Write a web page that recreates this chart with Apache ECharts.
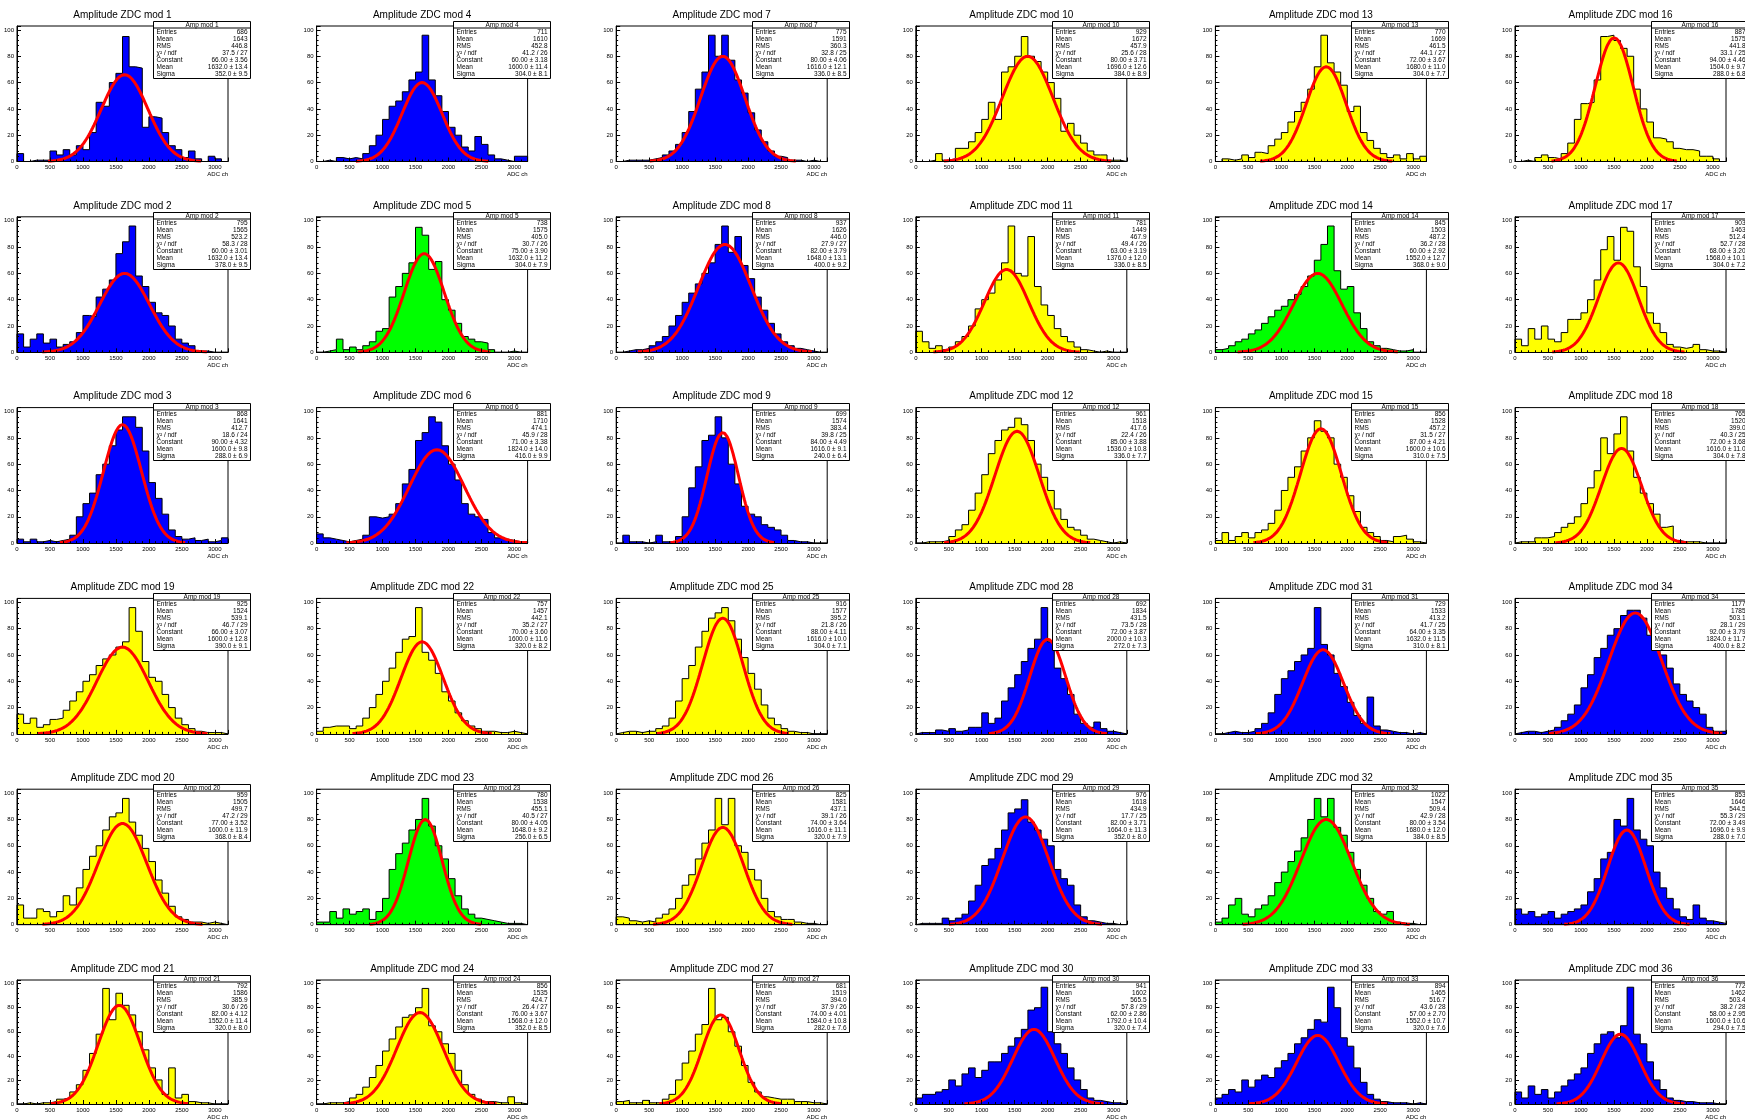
<!DOCTYPE html>
<html>
<head>
<meta charset="utf-8">
<title>Amplitude ZDC</title>
<script src="https://cdn.jsdelivr.net/npm/echarts@6/dist/echarts.min.js"></script>
<style>
html, body { margin: 0; padding: 0; background: #ffffff; }
#chart { width: 1745px; height: 1120px; }
</style>
</head>
<body>
<div id="chart"></div>
<script>
// pads are listed row by row, the way they sit on the canvas
const modules = [1, 4, 7, 10, 13, 16,
                 2, 5, 8, 11, 14, 17,
                 3, 6, 9, 12, 15, 18,
                 19, 22, 25, 28, 31, 34,
                 20, 23, 26, 29, 32, 35,
                 21, 24, 27, 30, 33, 36]

const B = '#0000ff', Y = '#ffff00', G = '#00ff00'
const fillColors = [B, B, B, Y, Y, Y,
                    B, G, B, Y, G, Y,
                    B, B, B, Y, Y, Y,
                    Y, Y, Y, B, B, B,
                    Y, G, Y, B, G, B,
                    Y, Y, Y, B, B, B]

// x range of every histogram (ADC channels) and y range
const xRange = [0, 3200]
const xStep = 500
const yRange = [0, 103]
const yStep = 20

// bin contents, 32 bins per histogram
const counts = [
    // mod 1
    [6,0,1,1,1,8,5,9,5,12,9,22,45,42,60,67,95,72,71,26,34,33,22,12,9,3,8,2,0,4,2,0],
    // mod 4
    [0,1,0,3,2,3,2,6,12,20,32,42,46,53,62,68,96,62,50,38,26,20,11,8,19,13,5,2,1,0,4,4],
    // mod 7
    [0,1,1,1,1,2,3,5,8,13,22,38,55,68,96,80,96,77,62,52,37,24,15,8,4,3,1,1,0,1,0,0],
    // mod 10
    [0,0,1,6,1,2,10,10,15,22,32,45,32,68,72,80,95,80,76,68,60,48,23,29,20,14,8,5,5,1,1,0],
    // mod 13
    [0,2,1,2,5,3,7,6,12,17,22,30,38,45,55,72,96,75,68,58,38,42,22,16,10,6,3,5,2,6,2,4],
    // mod 16
    [0,1,0,3,5,3,2,6,14,32,44,45,62,95,96,92,86,80,55,40,30,18,17,15,10,9,9,8,4,4,2,0],
    // mod 2
    [14,4,10,14,7,10,4,6,8,15,28,27,42,48,55,75,84,96,58,50,38,30,28,20,10,7,5,1,1,0,0,0],
    // mod 5
    [0,1,2,10,2,4,2,5,8,16,18,42,50,60,68,95,89,63,69,40,32,22,12,10,8,7,2,0,0,1,0,0],
    // mod 8
    [0,1,2,2,3,5,8,12,20,28,38,45,52,60,68,82,96,76,88,66,56,42,32,22,14,8,5,3,2,1,0,0],
    // mod 11
    [16,8,3,5,2,4,8,12,20,33,40,45,55,68,96,60,58,88,50,36,28,18,12,8,4,2,1,0,1,0,0,0],
    // mod 14
    [2,3,5,8,10,14,17,22,27,32,35,40,44,50,58,70,82,96,62,48,50,30,18,8,5,3,2,1,1,2,0,0],
    // mod 17
    [10,5,18,10,20,10,8,15,25,25,30,40,55,78,88,70,95,92,65,50,30,22,15,6,4,3,4,6,2,1,1,0],
    // mod 3
    [3,1,3,1,2,1,2,3,6,20,30,38,52,60,74,86,96,96,88,70,46,34,22,10,5,3,4,2,3,1,2,4],
    // mod 6
    [7,4,3,2,1,2,3,6,20,19,20,22,30,45,56,78,84,96,92,74,60,48,30,22,20,18,8,4,3,2,1,1],
    // mod 9
    [0,6,1,1,0,1,6,1,1,5,20,42,58,78,82,96,80,60,45,28,22,20,14,12,10,6,2,1,1,0,0,0],
    // mod 12
    [0,1,1,1,2,5,10,14,25,38,52,68,78,86,88,95,90,78,60,50,40,26,18,12,10,6,3,2,1,0,1,0],
    // mod 15
    [2,8,2,5,8,4,8,10,15,25,40,50,58,70,80,93,85,80,60,50,36,24,12,8,5,2,1,5,6,3,1,0],
    // mod 18
    [1,1,1,4,4,5,8,12,15,20,30,42,55,80,68,83,96,70,50,38,30,22,12,13,2,1,1,1,0,0,0,0],
    // mod 19
    [15,8,12,5,7,11,12,18,25,32,40,45,52,57,60,66,70,96,78,55,43,40,30,20,12,7,4,2,1,1,1,0],
    // mod 22
    [2,5,6,6,6,4,6,12,20,30,40,50,62,72,74,96,62,56,46,32,25,16,10,6,4,2,2,1,1,2,1,0],
    // mod 25
    [1,2,2,1,2,2,4,6,12,25,42,52,66,78,88,92,96,86,72,58,46,34,22,12,7,4,2,1,1,0,0,0],
    // mod 28
    [1,1,1,3,2,4,2,3,5,5,16,8,12,25,35,45,55,65,72,96,70,50,42,30,15,8,5,9,4,2,1,0],
    // mod 31
    [0,1,2,1,1,2,4,8,16,30,42,48,55,60,65,96,68,60,46,36,24,14,8,28,6,3,2,1,1,0,1,0],
    // mod 34
    [1,2,2,1,2,3,5,10,15,22,35,45,58,65,75,80,90,94,94,88,75,68,60,50,38,30,25,20,15,5,2,2],
    // mod 20
    [15,5,5,12,10,6,10,22,15,28,42,52,60,72,82,85,96,78,68,58,48,34,24,14,6,4,2,2,1,2,1,0],
    // mod 23
    [2,2,10,5,12,8,10,12,4,10,20,42,54,62,72,80,96,75,60,50,35,22,12,8,5,4,3,2,1,1,1,0],
    // mod 26
    [6,5,3,2,3,2,5,8,12,20,30,38,50,62,72,96,76,96,60,55,42,34,20,10,6,4,4,2,1,1,0,0],
    // mod 29
    [1,1,1,1,5,3,5,8,18,30,45,50,58,72,85,88,95,78,72,65,60,42,35,30,15,6,3,2,1,1,0,0],
    // mod 32
    [2,5,15,20,8,6,12,15,22,32,40,48,56,66,80,96,82,96,74,68,55,42,30,20,10,8,10,2,1,1,0,0],
    // mod 35
    [12,8,10,6,8,10,5,8,10,12,15,25,35,50,55,80,75,96,72,65,60,40,28,20,12,6,4,15,5,3,2,1],
    // mod 21
    [0,1,0,1,1,2,4,5,10,16,28,42,58,96,70,92,82,74,60,45,30,20,8,30,5,8,2,1,1,0,0,0],
    // mod 24
    [0,1,1,1,2,5,8,14,22,32,44,54,64,72,74,80,96,65,60,50,42,28,16,8,4,2,2,1,1,6,1,0],
    // mod 27
    [2,3,1,1,3,1,1,4,8,20,34,44,58,66,96,70,72,60,48,32,18,10,6,5,4,4,4,2,2,1,1,0],
    // mod 30
    [5,8,8,10,12,20,15,25,30,22,28,35,35,42,48,55,62,78,80,97,60,50,42,30,20,12,5,3,2,1,1,0],
    // mod 33
    [5,8,12,10,20,14,20,24,22,30,36,42,50,55,62,70,68,97,80,55,48,30,18,8,4,2,1,1,1,0,1,0],
    // mod 36
    [10,5,15,8,12,5,10,15,20,25,30,42,50,58,60,55,65,97,58,50,35,20,12,5,3,2,2,1,1,1,0,0]
]

// gaussian fit parameters, same order as the pads
const fitConstant = [66, 60, 80, 80, 72, 94,
                     60, 75, 82, 63, 60, 68,
                     90, 71, 84, 85, 87, 72,
                     66, 70, 88, 72, 64, 92,
                     77, 80, 74, 82, 80, 72,
                     82, 76, 74, 62, 57, 58]
const fitMean = [1632, 1600, 1616, 1696, 1680, 1504,
                 1632, 1632, 1648, 1376, 1552, 1568,
                 1600, 1824, 1616, 1536, 1600, 1616,
                 1600, 1600, 1616, 2000, 1632, 1824,
                 1600, 1648, 1616, 1664, 1680, 1696,
                 1552, 1568, 1584, 1792, 1552, 1600]
const fitSigma = [352, 304, 336, 384, 304, 288,
                  378, 304, 400, 336, 368, 304,
                  288, 416, 240, 336, 310, 304,
                  390, 320, 304, 272, 310, 400,
                  368, 256, 320, 352, 384, 288,
                  320, 352, 282, 320, 320, 294]
const chi2ndf = ['37.5 / 27', '41.2 / 26', '32.8 / 25', '25.6 / 28', '44.1 / 27', '33.1 / 25',
                 '58.3 / 28', '30.7 / 26', '27.9 / 27', '49.4 / 26', '36.2 / 28', '52.7 / 28',
                 '18.6 / 24', '45.9 / 28', '39.8 / 25', '22.4 / 26', '31.5 / 27', '40.3 / 25',
                 '46.7 / 29', '35.2 / 27', '21.8 / 26', '73.5 / 28', '41.7 / 25', '28.1 / 29',
                 '47.2 / 29', '40.5 / 27', '39.1 / 26', '17.7 / 25', '42.9 / 28', '55.3 / 29',
                 '30.6 / 26', '26.4 / 27', '37.9 / 26', '57.8 / 29', '43.6 / 28', '38.2 / 28']

const padW = 299.6, padH = 190.8
const frameW = 211, frameH = 135.5
const font = 'Liberation Sans, Arial, sans-serif'

function frameOf(i){
    const c = i % 6, r = Math.floor(i / 6)
    return {x: 17 + c * padW, y: 26 + r * padH}
}

function stepPoints(bins){
    const w = (xRange[1] - xRange[0]) / bins.length
    const pts = [[xRange[0], 0]]
    bins.forEach((v, k) => {
        pts.push([xRange[0] + k * w, v])
        pts.push([xRange[0] + (k + 1) * w, v])
    })
    pts.push([xRange[1], 0])
    return pts
}

function fitPoints(i){
    const c = fitConstant[i], m = fitMean[i], s = fitSigma[i]
    const lo = Math.max(xRange[0], m - 3.3 * s), hi = Math.min(xRange[1], m + 3.3 * s)
    const pts = []
    for(let k = 0; k <= 120; k++){
        const x = lo + (hi - lo) * k / 120
        pts.push([x, c * Math.exp(-0.5 * Math.pow((x - m) / s, 2))])
    }
    return pts
}

function histStats(bins){
    const w = (xRange[1] - xRange[0]) / bins.length
    let n = 0, sx = 0, sxx = 0
    bins.forEach((v, k) => {
        const x = xRange[0] + (k + 0.5) * w
        n += v; sx += v * x; sxx += v * x * x
    })
    const mean = sx / n
    return {n: n, mean: mean, rms: Math.sqrt(sxx / n - mean * mean)}
}

function txt(x, y, text, size, align){
    return {
        type: 'text', x: x, y: y, z: 20, silent: true,
        style: {text: text, fontSize: size, fontFamily: font, fill: '#000',
            align: align, textAlign: align, verticalAlign: 'middle', textVerticalAlign: 'middle'}
    }
}

const plain = v => String(v)

const grids = [], xAxes = [], yAxes = [], series = [], graphics = []

modules.forEach((mod, i) => {
    const f = frameOf(i)
    grids.push({
        left: f.x, top: f.y, width: frameW, height: frameH,
        show: true, borderColor: '#000', borderWidth: 1, backgroundColor: 'transparent'
    })
    xAxes.push({
        type: 'value', gridIndex: i, min: xRange[0], max: xRange[1], interval: xStep, z: 5,
        axisLine: {show: true, onZero: false, lineStyle: {color: '#000', width: 1}},
        axisTick: {show: true, inside: true, length: 4, lineStyle: {color: '#000'}},
        minorTick: {show: true, splitNumber: 5, length: 2, lineStyle: {color: '#000'}},
        axisLabel: {fontSize: 6, color: '#000', margin: 3, fontFamily: font, showMaxLabel: false, formatter: plain},
        splitLine: {show: false},
        name: 'ADC ch', nameLocation: 'end', nameGap: 0,
        nameTextStyle: {fontSize: 6, fontFamily: font, color: '#000', align: 'right', verticalAlign: 'top', padding: [10, 0, 0, 0]}
    })
    yAxes.push({
        type: 'value', gridIndex: i, min: yRange[0], max: yRange[1], interval: yStep, z: 5,
        axisLine: {show: true, lineStyle: {color: '#000', width: 1}},
        axisTick: {show: true, inside: true, length: 4, lineStyle: {color: '#000'}},
        minorTick: {show: true, splitNumber: 5, length: 2, lineStyle: {color: '#000'}},
        axisLabel: {fontSize: 6, color: '#000', margin: 3, fontFamily: font, showMaxLabel: false, formatter: plain},
        splitLine: {show: false}
    })
    series.push({
        type: 'line', xAxisIndex: i, yAxisIndex: i, data: stepPoints(counts[i]),
        symbol: 'none', silent: true, z: 2,
        lineStyle: {color: '#000', width: 1},
        areaStyle: {color: fillColors[i], opacity: 1, origin: 'start'}
    })
    series.push({
        type: 'line', xAxisIndex: i, yAxisIndex: i, data: fitPoints(i),
        symbol: 'none', silent: true, z: 3,
        lineStyle: {color: '#ff0000', width: 3}
    })

    // title over the frame
    graphics.push(txt(f.x + frameW / 2, f.y - 11, 'Amplitude ZDC mod ' + mod, 10, 'center'))

    // stats box
    const st = histStats(counts[i])
    const bx = Math.round(f.x + 136) + 0.5, by = Math.round(f.y - 5) + 0.5, bw = 97, bh = 57
    graphics.push({type: 'rect', z: 19, silent: true, shape: {x: bx, y: by, width: bw, height: bh},
        style: {fill: '#fff', stroke: '#000', lineWidth: 1}})
    graphics.push({type: 'line', z: 19, silent: true, shape: {x1: bx, y1: by + 6.5, x2: bx + bw, y2: by + 6.5},
        style: {stroke: '#000', lineWidth: 1}})
    graphics.push(txt(bx + bw / 2, by + 3.3, 'Amp mod ' + mod, 6.5, 'center'))
    const errMean = fitSigma[i] / Math.sqrt(st.n), errSigma = fitSigma[i] / Math.sqrt(2 * st.n)
    const errConst = fitConstant[i] * Math.sqrt(2 / st.n)
    const rows = [
        ['Entries', String(Math.round(st.n))],
        ['Mean', st.mean.toFixed(0)],
        ['RMS', st.rms.toFixed(1)],
        ['\u03c7\u00b2 / ndf', chi2ndf[i]],
        ['Constant', fitConstant[i].toFixed(2) + ' \u00b1 ' + errConst.toFixed(2)],
        ['Mean', fitMean[i].toFixed(1) + ' \u00b1 ' + errMean.toFixed(1)],
        ['Sigma', fitSigma[i].toFixed(1) + ' \u00b1 ' + errSigma.toFixed(1)]
    ]
    rows.forEach((row, k) => {
        const y = by + 11 + k * 6.9
        graphics.push(txt(bx + 3, y, row[0], 6.5, 'left'))
        graphics.push(txt(bx + bw - 3, y, row[1], 6.5, 'right'))
    })
})

const chart = echarts.init(document.getElementById('chart'), null, {renderer: 'canvas'})
chart.setOption({
    animation: false,
    backgroundColor: '#ffffff',
    grid: grids,
    xAxis: xAxes,
    yAxis: yAxes,
    series: series,
    graphic: {elements: graphics}
})
</script>
</body>
</html>
